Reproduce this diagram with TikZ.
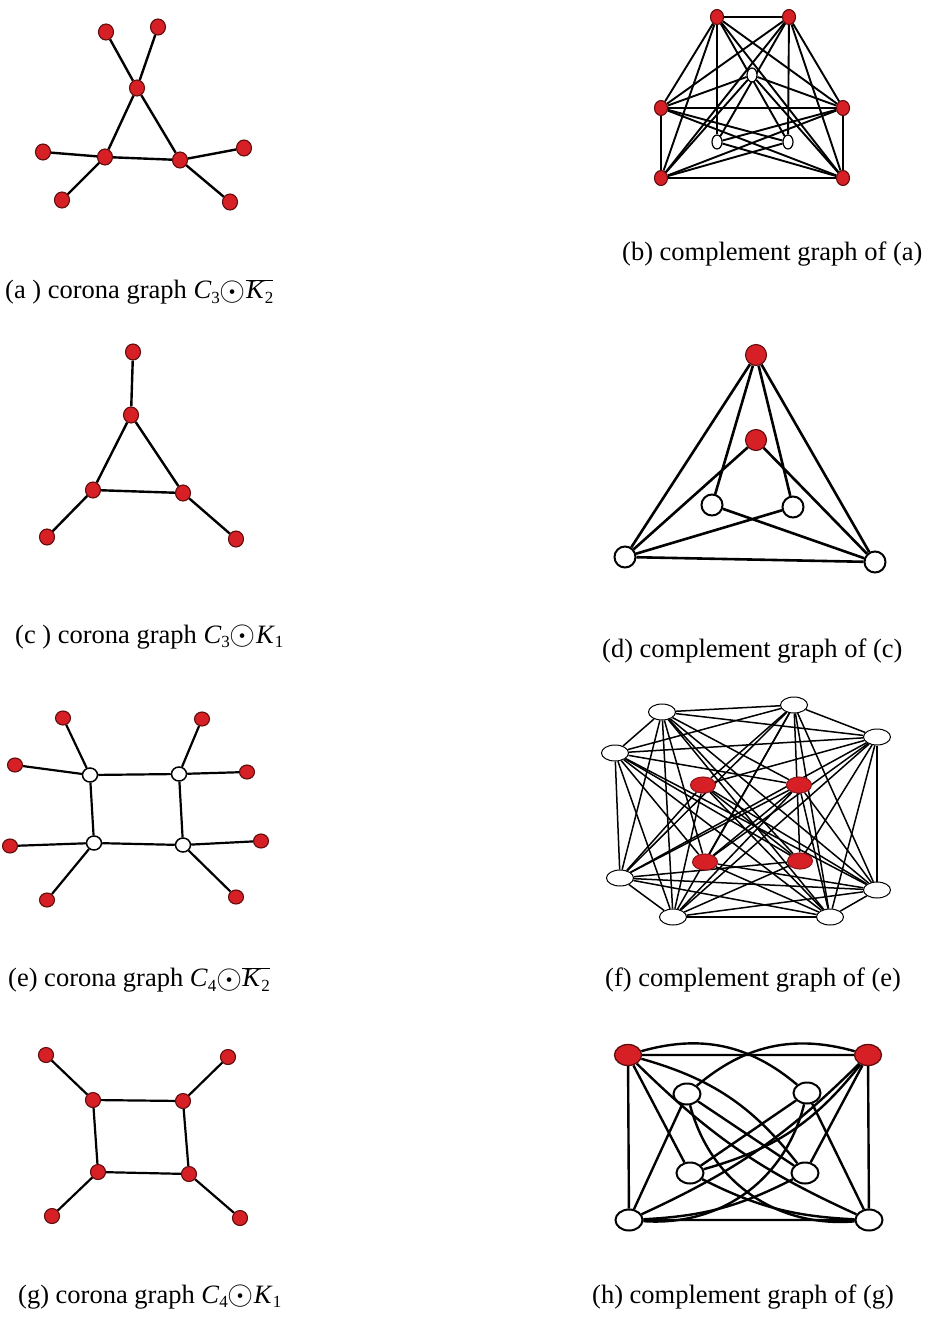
\documentclass[tikz,border=0pt]{standalone}
\usepackage{fontspec}
\usepackage{graphicx}
\setmainfont{Liberation Serif}
\usetikzlibrary{shapes.geometric,backgrounds}
\definecolor{vred}{RGB}{214,32,38}
\definecolor{vdark}{RGB}{95,12,12}
\newcommand{\cod}{\raisebox{-0.1ex}{\scalebox{1.35}{$\odot$}}}
\newcommand{\mv}[2]{\textit{#1}\raisebox{-0.35ex}{\fontsize{17}{18}\selectfont #2}}
\newcommand{\kbar}{$\overline{\hbox{\mv{K}{2}}}$}
\begin{document}
\begin{tikzpicture}[x=1pt,y=1pt,
  rv/.style={ellipse,draw=vdark,fill=vred,line width=1.1pt,inner sep=0pt},
  wv/.style={ellipse,draw=black,fill=white,line width=1.5pt,inner sep=0pt},
  sz/.style 2 args={minimum width=#1pt,minimum height=#2pt},
  ew/.style={line width=#1pt},
  captext/.style={anchor=west,inner sep=0pt,font=\fontsize{26.5}{30}\selectfont}]
\useasboundingbox (0,0) rectangle (932,-1320);

% ---------------- (a)
\begin{scope}[every node/.append style={sz={15}{16}}]
\node[rv] (a1) at (137,-88) {};
\node[rv] (a2) at (105,-157) {};
\node[rv] (a3) at (180,-160) {};
\node[rv] (a4) at (106,-32) {};
\node[rv] (a5) at (158,-27) {};
\node[rv] (a6) at (43,-152) {};
\node[rv] (a7) at (62,-200) {};
\node[rv] (a8) at (244,-148) {};
\node[rv] (a9) at (230,-202) {};
\end{scope}
\begin{scope}[on background layer]
\draw[ew=2.4] (a1)--(a2) (a1)--(a3) (a2)--(a3) (a1)--(a4) (a1)--(a5)
      (a2)--(a6) (a2)--(a7) (a3)--(a8) (a3)--(a9);
\end{scope}
\node[captext] (capa) at (5,-292) {(a ) corona graph \mv{C}{3}\cod\kbar};

% ---------------- (b)
\begin{scope}[every node/.append style={sz={13}{15}}]
\node[rv] (b1) at (717,-17) {};
\node[rv] (b2) at (789,-17) {};
\node[rv] (b3) at (661,-108) {};
\node[rv] (b4) at (843,-108) {};
\node[rv] (b5) at (661,-178) {};
\node[rv] (b6) at (843,-178) {};
\node[wv,sz={10}{14},line width=1.2pt] (b7) at (752,-75) {};
\node[wv,sz={10}{14},line width=1.2pt] (b8) at (717,-142) {};
\node[wv,sz={10}{14},line width=1.2pt] (b9) at (788,-142) {};
\end{scope}
\begin{scope}[on background layer]
\foreach \i in {1,...,5}{
  \pgfmathtruncatemacro\s{\i+1}
  \foreach \j in {\s,...,6} \draw[ew=1.9] (b\i)--(b\j);
}
\foreach \w in {3,4,5,6} \draw[ew=1.9] (b7)--(b\w);
\foreach \w in {1,2,4,6} \draw[ew=1.9] (b8)--(b\w);
\foreach \w in {1,2,3,5} \draw[ew=1.9] (b9)--(b\w);
\end{scope}
\node[captext] (capb) at (622,-254) {(b) complement graph of (a)};

% ---------------- (c)
\begin{scope}[every node/.append style={sz={15}{16}}]
\node[rv] (c1) at (133,-352) {};
\node[rv] (c2) at (131,-415) {};
\node[rv] (c3) at (93,-490) {};
\node[rv] (c4) at (183,-493) {};
\node[rv] (c5) at (47,-537) {};
\node[rv] (c6) at (236,-539) {};
\end{scope}
\begin{scope}[on background layer]
\draw[ew=2.4] (c2)--(c3) (c3)--(c4) (c4)--(c2) (c1)--(c2) (c3)--(c5) (c4)--(c6);
\end{scope}
\node[captext] (capc) at (15,-637) {(c ) corona graph \mv{C}{3}\cod\mv{K}{1}};

% ---------------- (d)
\begin{scope}[every node/.append style={sz={21}{21}}]
\node[rv] (d1) at (756,-355) {};
\node[rv] (d2) at (756,-440) {};
\node[wv,line width=2pt] (d3) at (712,-505) {};
\node[wv,line width=2pt] (d4) at (793,-507) {};
\node[wv,line width=2pt] (d5) at (625,-557) {};
\node[wv,line width=2pt] (d6) at (875,-562) {};
\end{scope}
\begin{scope}[on background layer]
\draw[ew=2.6] (d1)--(d5) (d1)--(d6) (d1)--(d3) (d1)--(d4) (d2)--(d5) (d2)--(d6)
      (d3)--(d6) (d4)--(d5) (d5)--(d6);
\end{scope}
\node[captext] (capd) at (602,-651) {(d) complement graph of (c)};

% ---------------- (e)
\begin{scope}[every node/.append style={sz={15}{14}}]
\node[wv] (e1) at (90,-775) {};
\node[wv] (e2) at (179,-774) {};
\node[wv] (e3) at (94,-843) {};
\node[wv] (e4) at (183,-845) {};
\node[rv] (e5) at (63,-718) {};
\node[rv] (e6) at (15,-765) {};
\node[rv] (e7) at (202,-719) {};
\node[rv] (e8) at (247,-772) {};
\node[rv] (e9) at (10,-846) {};
\node[rv] (e10) at (47,-900) {};
\node[rv] (e11) at (261,-841) {};
\node[rv] (e12) at (236,-897) {};
\end{scope}
\begin{scope}[on background layer]
\draw[ew=2.2] (e1)--(e2) (e2)--(e4) (e4)--(e3) (e3)--(e1)
      (e1)--(e5) (e1)--(e6) (e2)--(e7) (e2)--(e8)
      (e3)--(e9) (e3)--(e10) (e4)--(e11) (e4)--(e12);
\end{scope}
\node[captext] (cape) at (8,-980) {(e) corona graph \mv{C}{4}\cod\kbar};

% ---------------- (f)
\begin{scope}[every node/.append style={sz={27}{16}}]
\node[wv,line width=1pt] (fw1) at (662,-712) {};
\node[wv,line width=1pt] (fw2) at (794,-705) {};
\node[wv,line width=1pt] (fw3) at (877,-737) {};
\node[wv,line width=1pt] (fw4) at (615,-753) {};
\node[wv,line width=1pt] (fw5) at (620,-878) {};
\node[wv,line width=1pt] (fw6) at (673,-917) {};
\node[wv,line width=1pt] (fw7) at (830,-917) {};
\node[wv,line width=1pt] (fw8) at (877,-890) {};
\node[rv,sz={25}{16},draw=vred!70!black] (fr1) at (703,-785) {};
\node[rv,sz={25}{16},draw=vred!70!black] (fr2) at (799,-785) {};
\node[rv,sz={25}{16},draw=vred!70!black] (fr3) at (705,-862) {};
\node[rv,sz={25}{16},draw=vred!70!black] (fr4) at (800,-861) {};
\end{scope}
\begin{scope}[on background layer]
\foreach \i in {1,...,7}{
  \pgfmathtruncatemacro\s{\i+1}
  \foreach \j in {\s,...,8} \draw[ew=1.5] (fw\i)--(fw\j);
}
\foreach \r/\ws in {1/{2,3,5,6,7,8},2/{1,4,5,6,7,8},3/{1,2,3,4,7,8},4/{1,2,3,4,5,6}}
  \foreach \w in \ws \draw[ew=1.5] (fr\r)--(fw\w);
\draw[ew=1.5] (fr1)--(fr4) (fr2)--(fr3);
\end{scope}
\node[captext] (capf) at (605,-980) {(f) complement graph of (e)};

% ---------------- (g)
\begin{scope}[every node/.append style={sz={15}{15}}]
\node[rv] (g1) at (93,-1100) {};
\node[rv] (g2) at (183,-1101) {};
\node[rv] (g3) at (98,-1172) {};
\node[rv] (g4) at (189,-1174) {};
\node[rv] (g5) at (46,-1055) {};
\node[rv] (g6) at (228,-1057) {};
\node[rv] (g7) at (52,-1216) {};
\node[rv] (g8) at (240,-1218) {};
\end{scope}
\begin{scope}[on background layer]
\draw[ew=2.2] (g1)--(g2) (g2)--(g4) (g4)--(g3) (g3)--(g1)
      (g1)--(g5) (g2)--(g6) (g3)--(g7) (g4)--(g8);
\end{scope}
\node[captext] (capg) at (18,-1297) {(g) corona graph \mv{C}{4}\cod\mv{K}{1}};

% ---------------- (h)
\begin{scope}[every node/.append style={sz={27}{21}}]
\node[rv,line width=1.3pt] (h1) at (628,-1055) {};
\node[rv,line width=1.3pt] (h2) at (868,-1055) {};
\node[wv,line width=2pt] (h3) at (629,-1220) {};
\node[wv,line width=2pt] (h4) at (869,-1220) {};
\node[wv,line width=2pt] (h5) at (687,-1094) {};
\node[wv,line width=2pt] (h6) at (807,-1093) {};
\node[wv,line width=2pt] (h7) at (690,-1173) {};
\node[wv,line width=2pt] (h8) at (805,-1173) {};
\end{scope}
\begin{scope}[on background layer]
\begin{scope}[ew=2.4]
\draw (h1)--(h2) (h1)--(h3) (h2)--(h4) (h3)--(h4);
\draw (h1) to[bend right=10] (h4);
\draw (h2) to[bend left=10] (h3);
\draw (h5) to[bend left=28] (h2);
\draw (h6) to[bend right=28] (h1);
\draw (h5)--(h3) (h6)--(h4);
\draw (h5) to[bend right=40] (h4);
\draw (h6) to[bend left=40] (h3);
\draw (h7)--(h1) (h8)--(h2);
\draw (h7) to[bend right=18] (h2);
\draw (h8) to[bend right=18] (h1);
\draw (h7) to[bend right=12] (h4);
\draw (h8) to[bend left=12] (h3);
\draw (h5)--(h8) (h6)--(h7);
\end{scope}
\end{scope}
\node[captext] (caph) at (592,-1297) {(h) complement graph of (g)};
\end{tikzpicture}
\end{document}
